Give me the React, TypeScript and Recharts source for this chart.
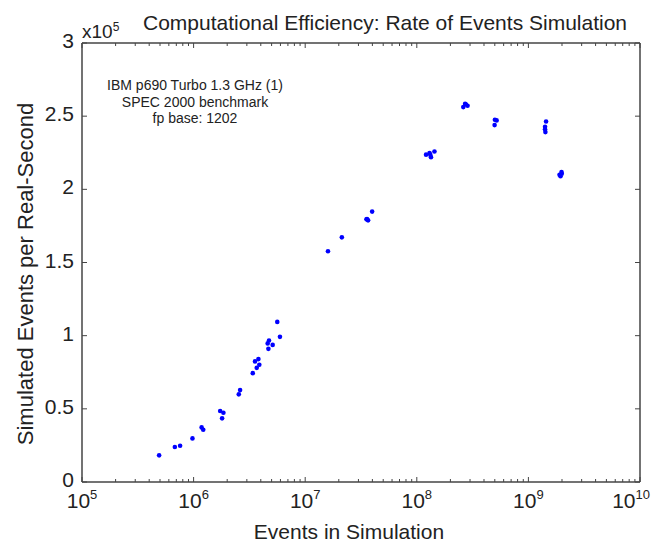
import React from "react";
import { ScatterChart, Scatter, XAxis, YAxis } from "recharts";

// events in simulation (x) and simulated events per real-second (y)
const EVENTS = [
  4.91e5, 6.79e5, 7.57e5, 9.77e5, 1.18e6, 1.22e6, 1.73e6, 1.85e6, 1.8e6, 2.54e6, 2.61e6, 3.39e6,
  3.55e6, 3.68e6, 3.81e6, 3.88e6, 4.68e6, 4.61e6, 4.74e6, 5.11e6, 5.62e6, 5.94e6, 1.6e7, 2.13e7,
  3.54e7, 3.66e7, 3.58e7, 3.98e7, 1.21e8, 1.3e8, 1.34e8, 1.44e8, 1.32e8, 2.61e8, 2.71e8, 2.85e8,
  2.76e8, 5.01e8, 5.19e8, 4.98e8, 1.44e9, 1.41e9, 1.41e9, 1.42e9, 1.9e9, 1.98e9, 1.94e9, 1.99e9,
];
const RATE = [
  18200, 23900, 24800, 29800, 37300, 35700, 48500, 47300, 43500, 59900, 62800, 74400,
  82400, 78000, 84000, 80100, 91000, 94700, 96700, 93700, 109400, 99200, 157700, 167200,
  179500, 178800, 179700, 184800, 223700, 224800, 222000, 225900, 223700, 256200, 258500, 257100,
  258000, 247600, 247100, 243900, 246400, 242800, 241000, 239100, 210000, 211800, 208900, 210700,
];

const X_DECADES = [1e5, 1e6, 1e7, 1e8, 1e9, 1e10];
const Y_TICKS = [0, 50000, 100000, 150000, 200000, 250000, 300000];
const NOTE_LINES = ["IBM p690 Turbo 1.3 GHz (1)", "SPEC 2000 benchmark", "fp base: 1202"];

const FONT = '"Liberation Sans", Arial, Helvetica, sans-serif';
const INK = "#222";
const AXIS = "#444";

const data = EVENTS.map((x, i) => ({ x, y: RATE[i] }));

// decades plus 2..9 minor ticks
const xTicks: number[] = [];
X_DECADES.forEach((d, i) => {
  xTicks.push(d);
  if (i < X_DECADES.length - 1) for (let m = 2; m <= 9; m++) xTicks.push(d * m);
});
const isMajor = (v: number) => X_DECADES.some((d) => Math.abs(d - v) < d * 1e-6);

const BottomTick = (p: any) => {
  const v = p.payload.value;
  const major = isMajor(v);
  const exp = Math.round(Math.log10(v));
  // last label is pulled in so it stays inside the figure
  const last = exp === 10;
  return (
    <g>
      <line x1={p.x} y1={p.y} x2={p.x} y2={p.y - (major ? 5 : 3)} stroke={AXIS} />
      {major && (
        <text
          x={last ? 650 : p.x} y={p.y + 26} textAnchor={last ? "end" : "middle"}
          fontFamily={FONT} fontSize={21} fill={INK}
        >
          10
          <tspan dy={-9} fontSize={13}>{exp}</tspan>
        </text>
      )}
    </g>
  );
};

const TopTick = (p: any) => {
  const major = isMajor(p.payload.value);
  return <line x1={p.x} y1={p.y} x2={p.x} y2={p.y + (major ? 5 : 3)} stroke={AXIS} />;
};

const LeftTick = (p: any) => (
  <g>
    <line x1={p.x} y1={p.y} x2={p.x + 5} y2={p.y} stroke={AXIS} />
    <text x={p.x - 8} y={p.y + 5} textAnchor="end" fontFamily={FONT} fontSize={21} fill={INK}>
      {p.payload.value / 1e5}
    </text>
  </g>
);

const RightTick = (p: any) => <line x1={p.x} y1={p.y} x2={p.x - 5} y2={p.y} stroke={AXIS} />;

const Dot = (p: any) => <circle cx={p.cx} cy={p.cy} r={2.3} fill="#0000ff" />;

export default function App() {
  const W = 652;
  const H = 543;
  return (
    <div style={{ position: "absolute", left: 0, top: 0, width: W, height: H, background: "#fff" }}>
      <ScatterChart width={W} height={H} margin={{ top: 42, right: 11, bottom: 60, left: 81 }}>
        <XAxis
          xAxisId="b" dataKey="x" type="number" scale="log" domain={[1e5, 1e10]} allowDataOverflow
          ticks={xTicks} interval={0} height={1} tickSize={0} tickMargin={0} tickLine={false}
          tick={BottomTick} axisLine={{ stroke: AXIS, strokeWidth: 1.5 }}
        />
        <XAxis
          xAxisId="t" orientation="top" dataKey="x" type="number" scale="log" domain={[1e5, 1e10]}
          allowDataOverflow ticks={xTicks} interval={0} height={1} tickSize={0} tickMargin={0}
          tickLine={false} tick={TopTick} axisLine={{ stroke: AXIS, strokeWidth: 1.5 }}
        />
        <YAxis
          yAxisId="l" dataKey="y" type="number" domain={[0, 300000]} allowDataOverflow ticks={Y_TICKS}
          interval={0} width={1} tickSize={0} tickMargin={0} tickLine={false} tick={LeftTick}
          axisLine={{ stroke: AXIS, strokeWidth: 1.5 }}
        />
        <YAxis
          yAxisId="r" orientation="right" dataKey="y" type="number" domain={[0, 300000]} allowDataOverflow
          ticks={Y_TICKS} interval={0} width={1} tickSize={0} tickMargin={0} tickLine={false}
          tick={RightTick} axisLine={{ stroke: AXIS, strokeWidth: 1.5 }}
        />
        <Scatter data={data} xAxisId="b" yAxisId="l" shape={Dot} isAnimationActive={false} />
        <Scatter data={data} xAxisId="t" yAxisId="r" shape={() => <g />} isAnimationActive={false} />
      </ScatterChart>
      <svg width={W} height={H} style={{ position: "absolute", left: 0, top: 0, pointerEvents: "none" }}>
        <text x={385} y={30} textAnchor="middle" fontFamily={FONT} fontSize={21} fill={INK}>
          Computational Efficiency: Rate of Events Simulation
        </text>
        <text x={82} y={38} fontFamily={FONT} fontSize={19} fill={INK}>
          x10<tspan dy={-7} fontSize={12}>5</tspan>
        </text>
        <text x={349} y={539} textAnchor="middle" fontFamily={FONT} fontSize={21} fill={INK}>
          Events in Simulation
        </text>
        <text
          transform="translate(33,274) rotate(-90)" textAnchor="middle" fontFamily={FONT}
          fontSize={22} fill={INK}
        >
          Simulated Events per Real-Second
        </text>
        {NOTE_LINES.map((s, i) => (
          <text key={s} x={195} y={90 + i * 16.5} textAnchor="middle" fontFamily={FONT} fontSize={14} fill={INK}>
            {s}
          </text>
        ))}
      </svg>
    </div>
  );
}
